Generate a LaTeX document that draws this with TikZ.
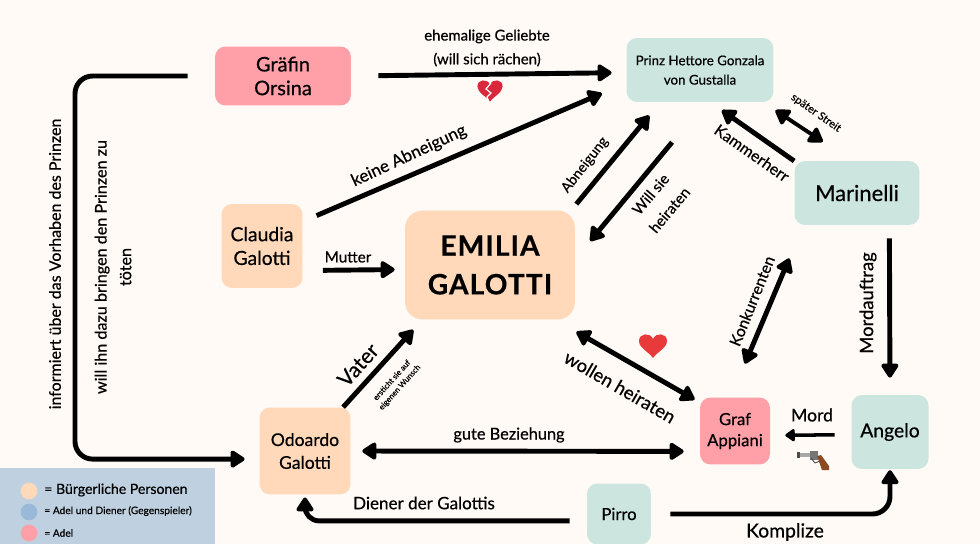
\documentclass[tikz,border=0pt]{standalone}
\usepackage{fontspec}
\setmainfont{Lato}[RawFeature={embolden=0.5}]
\usetikzlibrary{arrows.meta}
\definecolor{paper}{HTML}{FFFAF6}
\definecolor{peach}{HTML}{FFD9BA}
\definecolor{mint}{HTML}{CCE6DF}
\definecolor{rose}{HTML}{FFA0A8}
\definecolor{legendbg}{HTML}{BFD0E0}
\definecolor{legendblue}{HTML}{9AB8D8}
\definecolor{heartred}{HTML}{E83A3A}
\definecolor{brokenred}{HTML}{D9283C}
\definecolor{gripbrown}{HTML}{8A4A22}
\definecolor{steelgrey}{HTML}{A8A8A8}
\tikzset{
  person/.style={align=center, inner sep=0pt, rounded corners=6pt},
  buerger/.style={person, fill=peach},
  hof/.style={person, fill=mint},
  adel/.style={person, fill=rose},
  conn/.style={line width=2.8pt, line join=round, -{Triangle[length=9pt,width=11pt,round]}},
  both/.style={conn, {Triangle[length=9pt,width=11pt,round]}-{Triangle[length=9pt,width=11pt,round]}},
  lab/.style={align=center, inner sep=0pt},
  keydot/.style={circle, minimum size=9.5pt, inner sep=0pt},
  heartshape/.pic={
    \fill[pic actions] (0,13) .. controls (-4,7) and (-14,3) .. (-14,-4)
      .. controls (-14,-12) and (-3,-13) .. (0,-6)
      .. controls (3,-13) and (14,-12) .. (14,-4)
      .. controls (14,3) and (4,7) .. (0,13) -- cycle;
  }
}
\begin{document}
\begin{tikzpicture}[x=0.02cm,y=-0.02cm]
\useasboundingbox (0,0) rectangle (980,544);
\fill[paper] (0,0) rectangle (980,544);
\fill[legendbg] (0,468) rectangle (215,544);
% Personen
\node[adel, minimum width=136*0.569pt, minimum height=59*0.569pt, font=\fontsize{11.4}{13.5}\selectfont] (orsina) at (283,76) {Gräfin\\Orsina};
\node[hof, minimum width=147*0.569pt, minimum height=64*0.569pt, font=\fontsize{7.6}{11}\selectfont] (prinz) at (700,70) {Prinz Hettore Gonzala\\von Gustalla};
\node[hof, minimum width=125*0.569pt, minimum height=64*0.569pt, font=\fontsize{12.5}{15}\selectfont] (marinelli) at (857,193) {Marinelli};
\node[buerger, minimum width=170*0.569pt, minimum height=109*0.569pt, rounded corners=10pt, font=\fontsize{16}{22}\selectfont\bfseries\addfontfeatures{LetterSpace=4}] (emilia) at (490,265) {EMILIA\\GALOTTI};
\node[buerger, minimum width=81*0.569pt, minimum height=84*0.569pt, font=\fontsize{11}{13.5}\selectfont] (claudia) at (262,246) {Claudia\\Galotti};
\node[buerger, minimum width=91*0.569pt, minimum height=87*0.569pt, font=\fontsize{10}{13}\selectfont] (odoardo) at (305,451) {Odoardo\\Galotti};
\node[adel, minimum width=70*0.569pt, minimum height=67*0.569pt, font=\fontsize{9.5}{12}\selectfont] (appiani) at (735,431) {Graf\\Appiani};
\node[hof, minimum width=77*0.569pt, minimum height=74*0.569pt, font=\fontsize{11}{13}\selectfont] (angelo) at (890,432) {Angelo};
\node[hof, minimum width=64*0.569pt, minimum height=61*0.569pt, font=\fontsize{9.5}{12}\selectfont] (pirro) at (619,514) {Pirro};
\coordinate (leftbend) at (75,267);
% Verbindungen
\draw[conn, shorten <=15.4pt, shorten >=8.3pt] (orsina.east) -- (prinz.182);
\draw[conn, shorten <=8.5pt, shorten >=15pt] (claudia.31) -- (prinz.190);
\draw[conn, shorten <=4.5pt, shorten >=9.7pt] (emilia.34) -- (prinz.219);
\draw[conn, shorten <=29.5pt, shorten >=13.3pt] (prinz.279) -- (emilia.4);
\draw[conn, shorten <=11.4pt, shorten >=5.7pt] (claudia.329) -- (emilia.183);
\draw[conn, shorten >=7.7pt] (odoardo.49) -- (emilia.219);
\draw[both, shorten <=13.8pt, shorten >=3.3pt] (emilia.320) -- (appiani.141);
\draw[both, shorten <=20.7pt, shorten >=20.4pt] (appiani.97) -- (marinelli.211);
\draw[conn, shorten >=7.9pt] (marinelli.153) -- (prinz.288);
\draw[both, line width=2.2pt, shorten <=8.2pt, shorten >=19.5pt] (prinz.333) -- (marinelli.100);
\draw[conn, shorten <=7.4pt, shorten >=9.7pt] (marinelli.315) -- (angelo.north);
\draw[conn, line width=2pt, -{Triangle[length=6pt,width=8pt,round]}, shorten <=9.4pt, shorten >=8.5pt] (angelo.184) -- (appiani.353);
\draw[both, shorten <=6.5pt, shorten >=9.1pt] (odoardo.east) -- (appiani.210);
\draw[conn, rounded corners=8pt, shorten <=9.7pt, shorten >=1.5pt] (pirro.192) -| (odoardo.south);
\draw[conn, rounded corners=10pt, shorten <=10.8pt, shorten >=0.5pt] (pirro.east) -| (angelo.south);
\draw[conn, rounded corners=10pt, shorten <=15.4pt, shorten >=8.3pt] (orsina.west) -| (leftbend) |- (odoardo.190);
% Beschriftung
\node[lab, font=\fontsize{8.5}{13.5}\selectfont] (geliebte) at (487,48) {ehemalige Geliebte\\(will sich rächen)};
\node[lab, rotate=25, font=\fontsize{9.7}{11}\selectfont] (keine) at (409,156) {keine Abneigung};
\node[lab, rotate=52, font=\fontsize{8}{10}\selectfont] (abneigung) at (585,165) {Abneigung};
\node[lab, rotate=50, font=\fontsize{8.5}{14}\selectfont] (willsie) at (660,202) {Will sie\\heiraten};
\node[lab, font=\fontsize{8.7}{10}\selectfont] (mutter) at (348,257) {Mutter};
\node[lab, rotate=48, font=\fontsize{12}{13}\selectfont] (vater) at (358,365) {Vater};
\node[lab, rotate=48, font=\fontsize{4.5}{6}\selectfont] (wunsch) at (396,384) {ersticht sie auf\\eigenen Wunsch};
\node[lab, rotate=-30, font=\fontsize{10.5}{12}\selectfont] (wollen) at (620,387) {wollen heiraten};
\node[lab, rotate=68, font=\fontsize{9}{10}\selectfont] (konk) at (752,301) {Konkurrenten};
\node[lab, rotate=-35, font=\fontsize{9}{11}\selectfont] (kammer) at (752,153) {Kammerherr};
\node[lab, rotate=-35, font=\fontsize{6.2}{8}\selectfont] (streit) at (816,113) {später Streit};
\node[lab, rotate=90, font=\fontsize{10.5}{11}\selectfont] (auftrag) at (868,303) {Mordauftrag};
\node[lab, font=\fontsize{10}{12}\selectfont] (mord) at (812,415) {Mord};
\node[lab, font=\fontsize{9.3}{11}\selectfont] (gute) at (509,435) {gute Beziehung};
\node[lab, font=\fontsize{9.7}{10}\selectfont] (diener) at (424,503) {Diener der Galottis};
\node[lab, font=\fontsize{11}{12}\selectfont] (komplize) at (785,532) {Komplize};
\node[lab, rotate=90, font=\fontsize{9.1}{10}\selectfont] (informiert) at (55,264) {informiert über das Vorhaben des Prinzen};
\node[lab, rotate=90, font=\fontsize{9.2}{14}\selectfont] (dazu) at (113,267) {will ihn dazu bringen den Prinzen zu\\töten};
% Legende
\node[keydot, fill=peach] (keya) at (29,491) {};
\node[keydot, fill=legendblue] (keyb) at (29,512) {};
\node[keydot, fill=rose] (keyc) at (29,533) {};
\node[lab, anchor=west, font=\fontsize{8}{9}\selectfont] (texta) at (44,490) {= Bürgerliche Personen};
\node[lab, anchor=west, font=\fontsize{5.8}{7}\selectfont] (textb) at (44,511) {= Adel und Diener (Gegenspieler)};
\node[lab, anchor=west, font=\fontsize{5.8}{7}\selectfont] (textc) at (44,533) {= Adel};
% Herzen und Revolver
\pic[fill=heartred] at (653,345) {heartshape};
\pic[fill=brokenred, scale=0.9] at (490,90) {heartshape};
\draw[paper, line width=0.7pt] (491,83) -- (486,89) -- (491,93) -- (487,97) -- (489,102);
\fill[steelgrey] (797,453) rectangle (812,457);
\fill[black!70] (797,452) rectangle (800,458);
\fill[steelgrey!70!black] (810,451) rectangle (818,460);
\draw[black!70, line width=0.5pt] (811,458) -- (815,463) -- (820,461);
\fill[gripbrown] (817,456) -- (821,455) -- (829,466) -- (829,470) -- (822,470) -- cycle;
\end{tikzpicture}
\end{document}
